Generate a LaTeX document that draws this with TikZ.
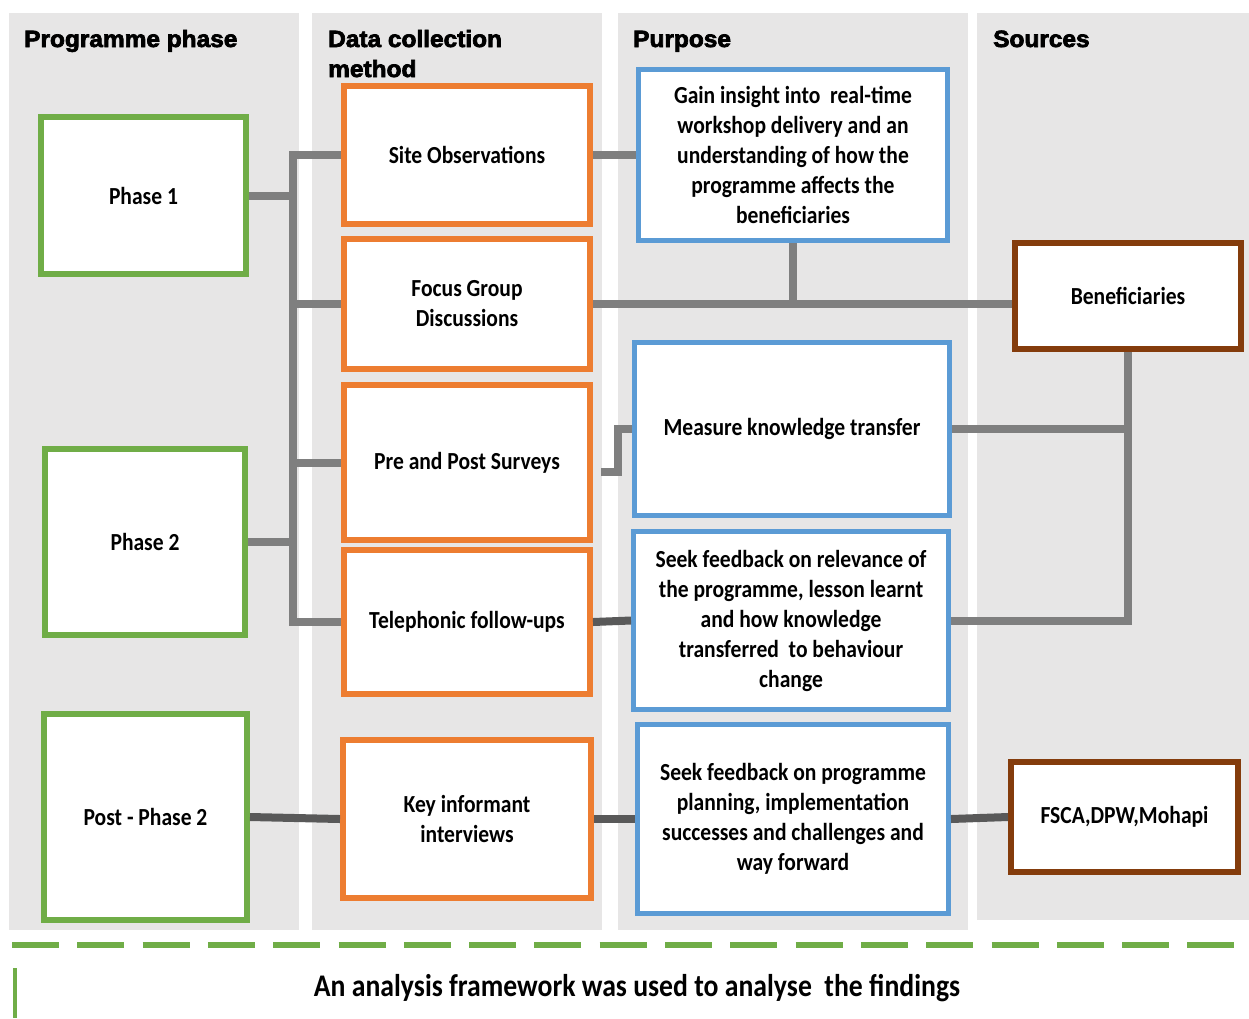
\documentclass[tikz,border=0pt]{standalone}
\usepackage{fontspec}
\newfontfamily\cfont{Carlito}[FakeStretch=0.88]
\newfontfamily\hfont{Liberation Sans}[FakeBold=3, FakeStretch=1.04]
\definecolor{cgreen}{HTML}{70AD47}
\definecolor{corange}{HTML}{ED7D31}
\definecolor{cblue}{HTML}{5B9BD5}
\definecolor{cbrown}{HTML}{843C0C}
\definecolor{cgray}{HTML}{7F7F7F}
\definecolor{cdark}{HTML}{595959}
\definecolor{cbg}{HTML}{E7E6E6}
\tikzset{
  box/.style={draw, fill=white, line width=6pt, inner sep=0pt, align=center,
    font=\cfont\bfseries\fontsize{24.5}{30}\selectfont},
  phasebox/.style={box, draw=cgreen},
  methbox/.style={box, draw=corange},
  purpbox/.style={box, draw=cblue, line width=5pt},
  srcbox/.style={box, draw=cbrown},
  conn/.style={draw=cgray, line width=8pt, line join=miter},
  dconn/.style={draw=cdark, line width=8pt},
  colbg/.style={fill=cbg, draw=none},
  head/.style={anchor=base west, inner sep=0pt, font=\hfont\bfseries\fontsize{23.5}{30}\selectfont, align=left}
}
\begin{document}
\begin{tikzpicture}[x=1pt,y=-1pt]
\useasboundingbox (0,0) rectangle (1249,1018);
% column backgrounds
\fill[colbg] (9,13) rectangle (299,930);
\fill[colbg] (312,13) rectangle (602,930);
\fill[colbg] (618,13) rectangle (968,930);
\fill[colbg] (977,13) rectangle (1249,920);
% headers
\node[head] (h1) at (24,47) {Programme phase};
\node[head] (h2) at (328,47) {Data collection};
\node[head] (h2b) at (328,77) {method};
\node[head] (h3) at (633,47) {Purpose};
\node[head] (h4) at (993,47) {Sources};
% phase boxes
\node[phasebox, minimum width=205pt, minimum height=157pt] (ph1) at (143.5,195.5) {Phase 1};
\node[phasebox, minimum width=200pt, minimum height=186pt] (ph2) at (145,542) {Phase 2};
\node[phasebox, minimum width=203pt, minimum height=206pt] (post) at (145.5,817) {Post - Phase 2};
% method boxes
\node[methbox, minimum width=246pt, minimum height=138pt] (site) at (467,155) {Site Observations};
\node[methbox, minimum width=246pt, minimum height=130pt] (focus) at (467,304) {Focus Group\\Discussions};
\node[methbox, minimum width=246pt, minimum height=155pt] (pre) at (467,462.5) {Pre and Post Surveys};
\node[methbox, minimum width=246pt, minimum height=144pt] (tele) at (467,622) {Telephonic follow-ups};
\node[methbox, minimum width=248pt, minimum height=158pt] (key) at (467,819) {Key informant\\interviews};
% purpose boxes
\node[purpbox, minimum width=309pt, minimum height=171pt] (gain) at (793,155) {Gain insight into\ \ real-time\\workshop delivery and an\\understanding of how the\\programme affects the\\beneficiaries};
\node[purpbox, minimum width=315pt, minimum height=173pt] (meas) at (792,429) {Measure knowledge transfer};
\node[purpbox, minimum width=315pt, minimum height=178pt] (seek1) at (791,620.5) {Seek feedback on relevance of\\the programme, lesson learnt\\and how knowledge\\transferred\ \ to behaviour\\change};
\node[purpbox, minimum width=311pt, minimum height=189pt] (seek2) at (793,819) {Seek feedback on programme\\planning, implementation\\successes and challenges and\\way forward};
% source boxes
\node[srcbox, minimum width=226pt, minimum height=106pt] (ben) at (1128,296) {Beneficiaries};
\node[srcbox, minimum width=227pt, minimum height=110pt] (fsca) at (1124.5,817) {FSCA,DPW,Mohapi};
% trunk connectors
\coordinate (tr) at (293,0);
\draw[conn] (site.west) -- (site.west -| tr) -- (tele.west -| tr) -- (tele.west);
\draw[conn] (focus.west) -- (focus.west -| tr);
\draw[conn] (pre.west) -- (pre.west -| tr);
\draw[conn] (ph1.east) -- (ph1.east -| tr);
\draw[conn] (ph2.east) -- (ph2.east -| tr);
% method to purpose
\draw[conn] (site.east) -- (gain.west);
\draw[conn] (focus.east) -- (focus.east -| ben.west);
\draw[conn] (gain.south) -- (gain.south |- focus.east);
\coordinate (pm) at (601,472);
\draw[conn] (pm) -- ++(17,0) |- (meas.west);
\draw[conn] (meas.east) -- (meas.east -| ben.south);
\draw[conn] (ben.south) -- (ben.south |- seek1.east) -- (seek1.east);
% dark connectors
\draw[dconn] (tele.east) -- (seek1.west);
\draw[dconn] (post.east) -- (key.west);
\draw[dconn] (key.east) -- (seek2.west);
\draw[dconn] (seek2.east) -- (fsca.west);
% footer
\draw[cgreen, line width=6pt, dash pattern=on 47pt off 18.3pt] (12,945) -- (1236,945);
\draw[cgreen, line width=4pt] (15,968) -- (15,1018);
\node[anchor=base, inner sep=0pt, font=\cfont\bfseries\fontsize{31.5}{36}\selectfont] (foot) at (637,996) {An analysis framework was used to analyse\ \ the findings};
\end{tikzpicture}
\end{document}
